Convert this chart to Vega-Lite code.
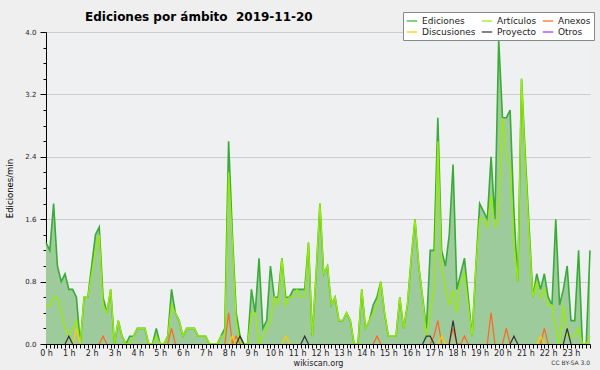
{
  "$schema": "https://vega.github.io/schema/vega-lite/v6.json",
  "width": 544,
  "height": 312,
  "autosize": {"type": "none"},
  "padding": {"left": 46, "top": 32, "right": 10, "bottom": 26},
  "background": "#efefef",
  "config": {
    "font": "DejaVu Sans",
    "view": {"fill": "#eef0f2", "stroke": null}
  },
  "title": {"text": "Ediciones por ámbito\u00a0 2019-11-20", "anchor": "start", "frame": "group", "dx": 39, "fontSize": 12, "fontWeight": "bold", "font": "DejaVu Sans", "color": "#000000", "offset": -12},
  "datasets": {
    "ediciones": [
      {"m":0,"Ediciones":1.3,"Artículos":0.5},
      {"m":10,"Ediciones":1.2,"Artículos":0.5},
      {"m":20,"Ediciones":1.8,"Artículos":0.6},
      {"m":30,"Ediciones":1.0,"Artículos":0.6},
      {"m":40,"Ediciones":0.8,"Artículos":0.4},
      {"m":50,"Ediciones":0.9,"Artículos":0.2,"Proyecto":0},
      {"m":60,"Ediciones":0.7,"Artículos":0.1,"Proyecto":0.1},
      {"m":70,"Ediciones":0.7,"Artículos":0.2,"Proyecto":0,"Discusiones":0},
      {"m":80,"Ediciones":0.6,"Artículos":0.3,"Discusiones":0.2},
      {"m":90,"Ediciones":0,"Artículos":0,"Discusiones":0},
      {"m":100,"Ediciones":0.6,"Artículos":0.6},
      {"m":110,"Ediciones":0.6,"Artículos":0.6},
      {"m":120,"Ediciones":1.0,"Artículos":0.9},
      {"m":130,"Ediciones":1.4,"Artículos":1.2},
      {"m":140,"Ediciones":1.5,"Artículos":1.4,"Anexos":0},
      {"m":150,"Ediciones":0.6,"Artículos":0.5,"Anexos":0.1},
      {"m":160,"Ediciones":0.4,"Artículos":0.4,"Anexos":0},
      {"m":170,"Ediciones":0.7,"Artículos":0.7},
      {"m":180,"Ediciones":0,"Artículos":0},
      {"m":190,"Ediciones":0.3,"Artículos":0.3},
      {"m":200,"Ediciones":0.1,"Artículos":0.1},
      {"m":210,"Ediciones":0,"Artículos":0},
      {"m":220,"Ediciones":0.1,"Artículos":0},
      {"m":230,"Ediciones":0.1,"Artículos":0.1},
      {"m":240,"Ediciones":0.2,"Artículos":0.2},
      {"m":250,"Ediciones":0.2,"Artículos":0.2},
      {"m":260,"Ediciones":0.2,"Artículos":0.2},
      {"m":270,"Ediciones":0,"Artículos":0},
      {"m":280,"Ediciones":0,"Artículos":0},
      {"m":290,"Ediciones":0.2,"Artículos":0.1},
      {"m":300,"Ediciones":0,"Artículos":0},
      {"m":310,"Ediciones":0,"Artículos":0},
      {"m":320,"Ediciones":0.1,"Artículos":0.1,"Anexos":0},
      {"m":330,"Ediciones":0.7,"Artículos":0.5,"Anexos":0.2},
      {"m":340,"Ediciones":0.4,"Artículos":0.4,"Anexos":0},
      {"m":350,"Ediciones":0.3,"Artículos":0.3},
      {"m":360,"Ediciones":0.1,"Artículos":0.1},
      {"m":370,"Ediciones":0.2,"Artículos":0.2},
      {"m":380,"Ediciones":0.2,"Artículos":0.2},
      {"m":390,"Ediciones":0.2,"Artículos":0.2},
      {"m":400,"Ediciones":0.1,"Artículos":0.1},
      {"m":410,"Ediciones":0.1,"Artículos":0.1},
      {"m":420,"Ediciones":0.1,"Artículos":0.1},
      {"m":430,"Ediciones":0,"Artículos":0},
      {"m":440,"Ediciones":0,"Artículos":0},
      {"m":450,"Ediciones":0,"Artículos":0},
      {"m":460,"Ediciones":0.1,"Artículos":0.1},
      {"m":470,"Ediciones":0.2,"Artículos":0.1,"Anexos":0},
      {"m":480,"Ediciones":2.6,"Artículos":2.2,"Anexos":0.4,"Discusiones":0},
      {"m":490,"Ediciones":1.4,"Artículos":1.3,"Anexos":0,"Discusiones":0.1},
      {"m":500,"Ediciones":0.4,"Artículos":0.3,"Anexos":0.1,"Discusiones":0,"Proyecto":0},
      {"m":510,"Ediciones":0.1,"Artículos":0,"Anexos":0,"Proyecto":0.1},
      {"m":520,"Ediciones":0,"Artículos":0,"Proyecto":0},
      {"m":530,"Ediciones":0,"Artículos":0},
      {"m":540,"Ediciones":0.7,"Artículos":0.4},
      {"m":550,"Ediciones":0.4,"Artículos":0.4},
      {"m":560,"Ediciones":1.1,"Artículos":0},
      {"m":570,"Ediciones":0.2,"Artículos":0.1},
      {"m":580,"Ediciones":0.3,"Artículos":0.2},
      {"m":590,"Ediciones":1.0,"Artículos":0.3},
      {"m":600,"Ediciones":0.6,"Artículos":0.6},
      {"m":610,"Ediciones":0.6,"Artículos":0.5},
      {"m":620,"Ediciones":1.1,"Artículos":1.1,"Discusiones":0},
      {"m":630,"Ediciones":0.6,"Artículos":0.5,"Discusiones":0.1},
      {"m":640,"Ediciones":0.6,"Artículos":0.6,"Discusiones":0},
      {"m":650,"Ediciones":0.7,"Artículos":0.6},
      {"m":660,"Ediciones":0.7,"Artículos":0.7},
      {"m":670,"Ediciones":0.7,"Artículos":0.6,"Proyecto":0},
      {"m":680,"Ediciones":0.7,"Artículos":0.6,"Proyecto":0.1},
      {"m":690,"Ediciones":1.3,"Artículos":1.3,"Proyecto":0},
      {"m":700,"Ediciones":0.1,"Artículos":0.1},
      {"m":710,"Ediciones":0.9,"Artículos":0.9},
      {"m":720,"Ediciones":1.8,"Artículos":1.8},
      {"m":730,"Ediciones":0.9,"Artículos":0.9},
      {"m":740,"Ediciones":1.0,"Artículos":1.0},
      {"m":750,"Ediciones":0.5,"Artículos":0.5},
      {"m":760,"Ediciones":0.6,"Artículos":0.6},
      {"m":770,"Ediciones":0.3,"Artículos":0.3},
      {"m":780,"Ediciones":0.3,"Artículos":0.3},
      {"m":790,"Ediciones":0.4,"Artículos":0.4},
      {"m":800,"Ediciones":0.3,"Artículos":0.3},
      {"m":810,"Ediciones":0,"Artículos":0},
      {"m":820,"Ediciones":0,"Artículos":0},
      {"m":830,"Ediciones":0.7,"Artículos":0.7},
      {"m":840,"Ediciones":0.2,"Artículos":0.2},
      {"m":850,"Ediciones":0.3,"Artículos":0.3},
      {"m":860,"Ediciones":0.5,"Artículos":0.4,"Anexos":0},
      {"m":870,"Ediciones":0.6,"Artículos":0.5,"Anexos":0.1},
      {"m":880,"Ediciones":0.8,"Artículos":0.8,"Anexos":0},
      {"m":890,"Ediciones":0.4,"Artículos":0.4},
      {"m":900,"Ediciones":0.1,"Artículos":0.1},
      {"m":910,"Ediciones":0.1,"Artículos":0.1},
      {"m":920,"Ediciones":0.1,"Artículos":0.1},
      {"m":930,"Ediciones":0.6,"Artículos":0.6},
      {"m":940,"Ediciones":0.2,"Artículos":0.2},
      {"m":950,"Ediciones":0.5,"Artículos":0.5},
      {"m":960,"Ediciones":1.1,"Artículos":1.1},
      {"m":970,"Ediciones":1.6,"Artículos":1.6},
      {"m":980,"Ediciones":1.0,"Artículos":1.0},
      {"m":990,"Ediciones":0.6,"Artículos":0.6,"Proyecto":0},
      {"m":1000,"Ediciones":0.2,"Artículos":0.1,"Proyecto":0.1},
      {"m":1010,"Ediciones":1.2,"Artículos":0.4,"Proyecto":0.1,"Anexos":0},
      {"m":1020,"Ediciones":1.2,"Artículos":0.7,"Proyecto":0,"Anexos":0.1},
      {"m":1030,"Ediciones":2.9,"Artículos":2.6,"Anexos":0.3,"Discusiones":0},
      {"m":1040,"Ediciones":1.2,"Artículos":1.0,"Anexos":0,"Discusiones":0.1},
      {"m":1050,"Ediciones":1.0,"Artículos":0.7,"Discusiones":0},
      {"m":1060,"Ediciones":1.4,"Artículos":0.5,"Anexos":0,"Proyecto":0},
      {"m":1070,"Ediciones":2.3,"Artículos":0.7,"Anexos":0.2,"Proyecto":0.3},
      {"m":1080,"Ediciones":0.7,"Artículos":0.4,"Anexos":0,"Proyecto":0},
      {"m":1090,"Ediciones":0.9,"Artículos":0.8,"Anexos":0},
      {"m":1100,"Ediciones":1.1,"Artículos":0.9,"Anexos":0.1},
      {"m":1110,"Ediciones":0.6,"Artículos":0.5,"Anexos":0},
      {"m":1120,"Ediciones":0.1,"Artículos":0.1},
      {"m":1130,"Ediciones":1.0,"Artículos":1.0},
      {"m":1140,"Ediciones":1.8,"Artículos":1.6},
      {"m":1150,"Ediciones":1.7,"Artículos":1.6},
      {"m":1160,"Ediciones":1.6,"Artículos":1.5,"Anexos":0},
      {"m":1170,"Ediciones":2.4,"Artículos":1.9,"Anexos":0.4},
      {"m":1180,"Ediciones":1.6,"Artículos":1.5,"Anexos":0},
      {"m":1190,"Ediciones":3.9,"Artículos":1.6},
      {"m":1200,"Ediciones":2.9,"Artículos":2.9,"Anexos":0},
      {"m":1210,"Ediciones":2.9,"Artículos":2.4,"Anexos":0.2},
      {"m":1220,"Ediciones":3.0,"Artículos":2.3,"Anexos":0,"Proyecto":0},
      {"m":1230,"Ediciones":1.7,"Artículos":1.3,"Proyecto":0.1},
      {"m":1240,"Ediciones":0.8,"Artículos":0.8,"Proyecto":0},
      {"m":1250,"Ediciones":3.4,"Artículos":3.4},
      {"m":1260,"Ediciones":2.4,"Artículos":2.3},
      {"m":1270,"Ediciones":1.5,"Artículos":1.4},
      {"m":1280,"Ediciones":0.6,"Artículos":0.6},
      {"m":1290,"Ediciones":0.9,"Artículos":0.8,"Discusiones":0},
      {"m":1300,"Ediciones":0.7,"Artículos":0.6,"Discusiones":0.1,"Anexos":0},
      {"m":1310,"Ediciones":0.9,"Artículos":0.7,"Discusiones":0,"Anexos":0.2},
      {"m":1320,"Ediciones":0.6,"Artículos":0.5,"Anexos":0},
      {"m":1330,"Ediciones":0.5,"Artículos":0.5},
      {"m":1340,"Ediciones":1.6,"Artículos":0.2},
      {"m":1350,"Ediciones":0.5,"Artículos":0},
      {"m":1360,"Ediciones":0.7,"Artículos":0.5,"Proyecto":0},
      {"m":1370,"Ediciones":1.0,"Artículos":0.1,"Proyecto":0.2},
      {"m":1380,"Ediciones":0.3,"Artículos":0.1,"Proyecto":0},
      {"m":1390,"Ediciones":0.3,"Artículos":0.1},
      {"m":1400,"Ediciones":1.2,"Artículos":0.2},
      {"m":1410,"Ediciones":0,"Artículos":0},
      {"m":1420,"Ediciones":0,"Artículos":0},
      {"m":1430,"Ediciones":1.2,"Artículos":0.1}
    ],
    "licencia": [{"nota": "CC BY-SA 3.0", "m": 1430, "v": -0.24}]
  },
  "encoding": {
    "x": {
      "field": "m", "type": "quantitative",
      "scale": {"domain": [0, 1430], "nice": false, "zero": false},
      "axis": {
        "title": "wikiscan.org", "titleFontSize": 8, "titleFontWeight": "normal", "titleColor": "#222222", "titlePadding": 2,
        "tickCount": 143, "labelExpr": "datum.value % 60 === 0 ? (datum.value / 60) + ' h' : ''",
        "labelOverlap": false, "labelFlush": false, "labelFontSize": 8, "labelColor": "#222222", "labelPadding": 1,
        "tickSize": 4, "tickColor": "#000000", "domainColor": "#000000", "grid": false, "zindex": 1
      }
    },
    "y": {
      "field": "v", "type": "quantitative",
      "scale": {"domain": [0, 4], "nice": false},
      "axis": {
        "title": "Ediciones/min", "titleFontSize": 8.5, "titleFontWeight": "normal", "titleColor": "#000000", "titlePadding": 10,
        "values": [0, 0.2, 0.4, 0.6, 0.8, 1, 1.2, 1.4, 1.6, 1.8, 2, 2.2, 2.4, 2.6, 2.8, 3, 3.2, 3.4, 3.6, 3.8, 4],
        "labelExpr": "round(datum.value * 5) % 4 === 0 ? format(datum.value, '.1f') : ''",
        "labelFontSize": 7, "labelColor": "#222222", "labelPadding": 4,
        "tickSize": {"condition": {"test": "round(datum.value * 5) % 4 === 0", "value": 6}, "value": 3},
        "tickColor": "#000000", "domainColor": "#000000",
        "grid": true, "gridColor": "#cccccc",
        "gridOpacity": {"condition": {"test": "round(datum.value * 5) % 4 === 0", "value": 1}, "value": 0}
      }
    }
  },
  "layer": [
    {
      "data": {"name": "ediciones"},
      "transform": [
        {"fold": ["Ediciones"], "as": ["serie", "v"]}
      ],
      "mark": {"type": "area", "color": "#9ecb9b", "opacity": 1}
    },
    {
      "data": {"name": "ediciones"},
      "transform": [
        {"fold": ["Ediciones"], "as": ["serie", "v"]}
      ],
      "mark": {"type": "line", "strokeWidth": 1.6},
      "encoding": {
        "color": {
          "field": "serie", "type": "nominal",
          "scale": {"domain": ["Ediciones", "Artículos", "Anexos", "Discusiones", "Proyecto", "Otros"], "range": ["#3aab36", "#99ee00", "#ff6622", "#ffcc00", "#333333", "#9933ff"]},
          "legend": {
            "orient": "none", "legendX": 357, "legendY": -20, "columns": 3, "direction": "horizontal", "title": null,
            "fillColor": "#ffffff", "strokeColor": "#888888", "padding": 3,
            "symbolType": "stroke", "symbolSize": 110, "symbolStrokeWidth": 1.2,
            "labelFont": "DejaVu Sans", "labelFontSize": 9, "labelColor": "#222222",
            "columnPadding": 3, "rowPadding": 0, "labelOffset": 4
          }
        }
      }
    },
    {
      "data": {"name": "ediciones"},
      "transform": [
        {"fold": ["Artículos"], "as": ["serie", "v"]}
      ],
      "mark": {"type": "line", "strokeWidth": 1.3},
      "encoding": {"color": {"field": "serie", "type": "nominal"}}
    },
    {
      "data": {"name": "ediciones"},
      "transform": [
        {"fold": ["Anexos", "Discusiones", "Proyecto"], "as": ["serie", "v"]}
      ],
      "mark": {"type": "line", "strokeWidth": 1.2, "invalid": "break-paths-show-domains"},
      "encoding": {"color": {"field": "serie", "type": "nominal"}}
    },
    {
      "data": {"name": "licencia"},
      "mark": {"type": "text", "align": "right", "baseline": "middle", "fontSize": 6, "color": "#333333"},
      "encoding": {"text": {"field": "nota"}}
    }
  ]
}
